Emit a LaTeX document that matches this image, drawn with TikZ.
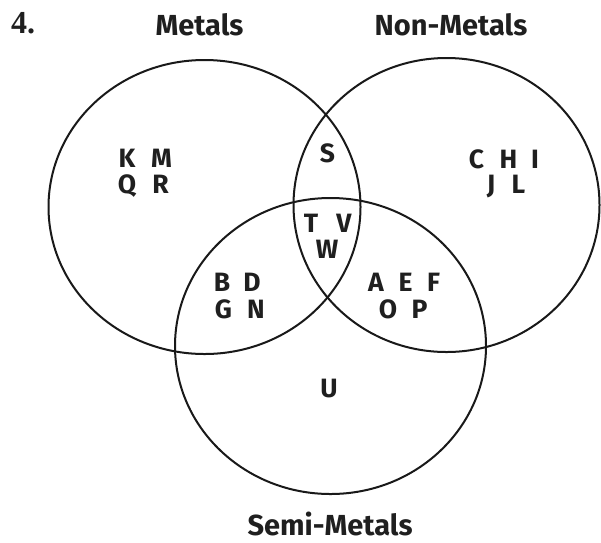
\documentclass[tikz,border=0pt]{standalone}
\usepackage{fontspec}
\setmainfont{Fira Sans}
\newfontfamily\numfont{Liberation Serif}
\begin{document}
\begin{tikzpicture}[x=1pt,y=-1pt,
  ring/.style={draw=black!90,line width=2pt},
  setname/.style={font=\fontsize{29}{30}\selectfont\bfseries,anchor=base,inner sep=0pt,text=black!88},
  elem/.style={font=\fontsize{26.5}{27}\selectfont\bfseries,anchor=base,inner sep=0pt,text=black!88}]
\useasboundingbox (0,0) rectangle (601,542);

% the three sets
\draw[ring] (204.5,207) ellipse [x radius=156, y radius=147];
\draw[ring] (446.5,205) ellipse [x radius=153, y radius=147];
\draw[ring] (330.5,346) ellipse [x radius=155.5, y radius=148];

% headings
\node[font=\numfont\fontsize{32}{33}\selectfont\bfseries,anchor=base west,inner sep=0pt,text=black!88] (num) at (11,33) {4.};
\node[setname] (metals) at (199.5,35) {Metals};
\node[setname] (nonmetals) at (451,35) {Non-Metals};
\node[setname] (semimetals) at (330,535) {Semi-Metals};

% metals only
\node[elem] (k) at (127,167) {K};
\node[elem] (m) at (161.5,167) {M};
\node[elem] (q) at (127,193) {Q};
\node[elem] (r) at (160.5,193) {R};

% metals and non-metals
\node[elem] (s) at (327.5,162) {S};

% all three
\node[elem] (t) at (311,232) {T};
\node[elem] (v) at (344,232) {V};
\node[elem] (w) at (327,258) {W};

% metals and semi-metals
\node[elem] (b) at (222,291) {B};
\node[elem] (d) at (252,291) {D};
\node[elem] (g) at (223.5,318) {G};
\node[elem] (n) at (256,318) {N};

% non-metals and semi-metals
\node[elem] (a) at (376,291) {A};
\node[elem] (e) at (405.5,291) {E};
\node[elem] (f) at (433.5,291) {F};
\node[elem] (o) at (388,318) {O};
\node[elem] (p) at (419.5,318) {P};

% non-metals only
\node[elem] (c) at (476.5,168) {C};
\node[elem] (h) at (508.5,168) {H};
\node[elem] (i) at (535,168) {I};
\node[elem] (j) at (491,193) {J};
\node[elem] (l) at (518.5,193) {L};

% semi-metals only
\node[elem] (u) at (329,397) {U};
\end{tikzpicture}
\end{document}
